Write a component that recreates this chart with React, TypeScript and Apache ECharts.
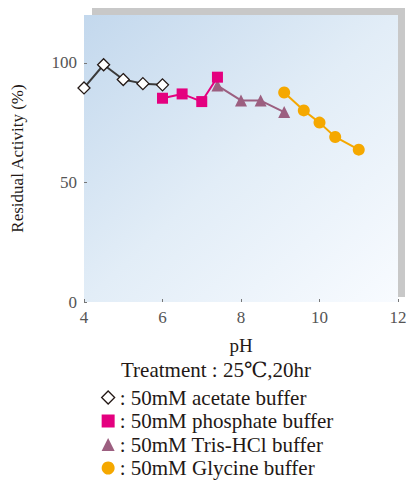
import React, { useEffect, useRef } from "react";
import * as echarts from "echarts";

const acetatePH = [4, 4.5, 5, 5.5, 6];
const acetateVal = [89.5, 99.2, 93, 91.3, 90.8];
const phosphatePH = [6, 6.5, 7, 7.4];
const phosphateVal = [85.2, 87, 83.8, 94];
const trisPH = [7.4, 8, 8.5, 9.1];
const trisVal = [90.5, 84.3, 84.2, 79.4];
const glycinePH = [9.1, 9.6, 10, 10.4, 11];
const glycineVal = [87.6, 80.1, 75, 69, 63.7];

const xTicks = [4, 6, 8, 10, 12];
const yTicks = [0, 50, 100];

const seriesNames = [
  "50mM acetate buffer",
  "50mM phosphate buffer",
  "50mM Tris-HCl buffer",
  "50mM Glycine buffer",
];

const FONT = "'Liberation Serif', 'DejaVu Serif', serif";

const pairs = (xs: number[], ys: number[]) => xs.map((x, i) => [x, ys[i]]);

export default function App() {
  const ref = useRef<HTMLDivElement>(null);
  useEffect(() => {
    if (!ref.current) return;
    const chart = echarts.init(ref.current, undefined, { renderer: "svg" });
    chart.setOption({
      animation: false,
      backgroundColor: "#ffffff",
      graphic: [
        {
          type: "rect",
          z: -10,
          shape: { x: 92, y: 8, width: 313, height: 289 },
          style: { fill: "#c8c8c8" },
        },
        {
          type: "text",
          left: 121,
          top: 359,
          style: {
            text: "Treatment : 25℃,20hr",
            font: `21px ${FONT}`,
            fill: "#231815",
          },
        },
      ],
      grid: {
        left: 84,
        right: 16,
        top: 15,
        bottom: 179,
        show: true,
        borderWidth: 0,
        backgroundColor: new echarts.graphic.LinearGradient(0, 0, 1, 1, [
          { offset: 0, color: "#c3d8ed" },
          { offset: 0.5, color: "#e2edf7" },
          { offset: 1, color: "#f8fbff" },
        ]),
      },
      legend: {
        orient: "vertical",
        left: 101,
        top: 387,
        height: 110,
        itemWidth: 13,
        itemHeight: 13,
        itemGap: 2.5,
        padding: 0,
        formatter: ": {name}",
        textStyle: { fontFamily: FONT, fontSize: 21, lineHeight: 21, color: "#231815" },
        data: [
          { name: seriesNames[0], icon: "diamond", itemStyle: { color: "#ffffff", borderColor: "#231815", borderWidth: 1.3 } },
          { name: seriesNames[1], icon: "rect" },
          { name: seriesNames[2], icon: "triangle" },
          { name: seriesNames[3], icon: "circle" },
        ],
      },
      xAxis: {
        type: "value",
        min: 4,
        max: 12,
        interval: 2,
        name: "pH",
        nameLocation: "middle",
        nameGap: 34,
        nameTextStyle: { fontFamily: FONT, fontSize: 19, color: "#231815" },
        axisLine: { show: false },
        axisTick: { show: true, inside: true, length: 3, lineStyle: { color: "#777" } },
        splitLine: { show: false },
        axisLabel: {
          fontFamily: FONT,
          fontSize: 17,
          color: "#555",
          margin: 7,
          customValues: xTicks,
        },
      },
      yAxis: {
        type: "value",
        min: 0,
        max: 120,
        interval: 50,
        name: "Residual Activity (%)",
        nameLocation: "middle",
        nameRotate: 90,
        nameGap: 58,
        nameTextStyle: { fontFamily: FONT, fontSize: 17, color: "#231815" },
        axisLine: { show: false },
        axisTick: { show: true, inside: true, length: 3, lineStyle: { color: "#777" }, customValues: yTicks },
        splitLine: { show: false },
        axisLabel: {
          fontFamily: FONT,
          fontSize: 17,
          color: "#555",
          margin: 7,
          customValues: yTicks,
        },
      },
      series: [
        {
          name: seriesNames[0],
          type: "line",
          data: pairs(acetatePH, acetateVal),
          symbol: "diamond",
          symbolSize: 12,
          z: 5,
          lineStyle: { color: "#3a3a3a", width: 2 },
          itemStyle: { color: "#ffffff", borderColor: "#231815", borderWidth: 1.3 },
        },
        {
          name: seriesNames[1],
          type: "line",
          data: pairs(phosphatePH, phosphateVal),
          symbol: "rect",
          symbolSize: 11,
          z: 4,
          lineStyle: { color: "#e4007f", width: 2 },
          itemStyle: { color: "#e4007f" },
        },
        {
          name: seriesNames[2],
          type: "line",
          data: pairs(trisPH, trisVal),
          symbol: "triangle",
          symbolSize: 12,
          z: 3,
          lineStyle: { color: "#9c5f80", width: 2 },
          itemStyle: { color: "#9c5f80" },
        },
        {
          name: seriesNames[3],
          type: "line",
          data: pairs(glycinePH, glycineVal),
          symbol: "circle",
          symbolSize: 12,
          z: 3,
          lineStyle: { color: "#f5a800", width: 2 },
          itemStyle: { color: "#f5a800" },
        },
      ],
    });
    return () => chart.dispose();
  }, []);
  return <div ref={ref} style={{ width: 414, height: 481, position: "absolute", left: 0, top: 0 }} />;
}
